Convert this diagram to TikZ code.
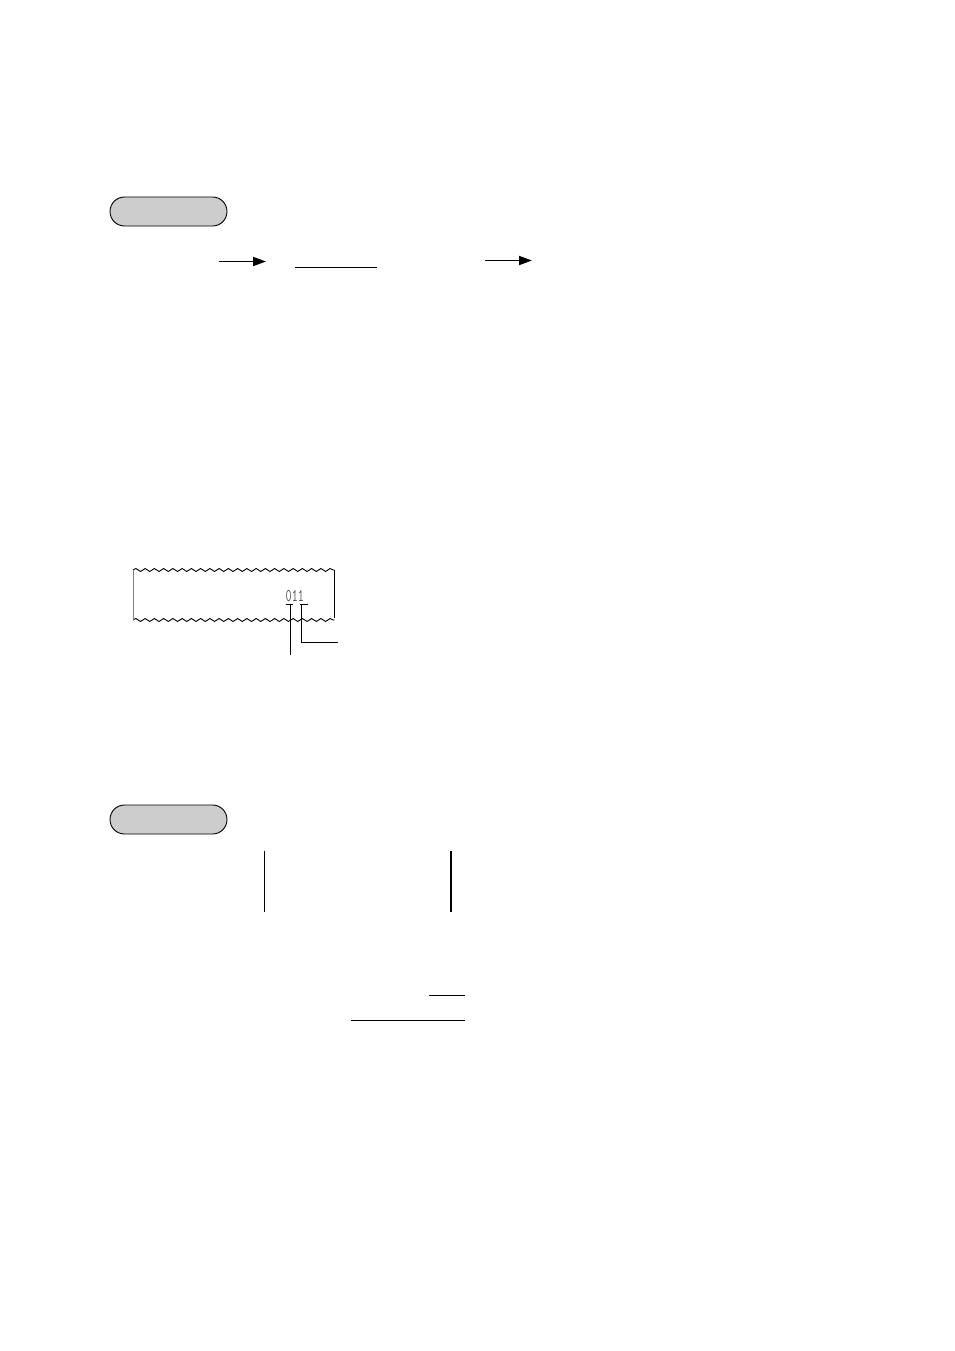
\documentclass[tikz,border=0pt]{standalone}
\usetikzlibrary{arrows.meta,decorations.pathmorphing}
\definecolor{grisboton}{RGB}{205,205,205}
\definecolor{gristexto}{RGB}{80,80,80}
\tikzset{
  boton/.style={draw, line width=0.9pt, fill=grisboton, rounded corners=14.5pt,
    minimum width=117pt, minimum height=29pt, inner sep=0pt},
  flecha/.style={line width=1.8pt, -{Triangle[length=13pt,width=9pt]}},
  ondas/.style={line width=0.9pt, decorate,
    decoration={snake, segment length=9.25pt, amplitude=1.5pt}}
}
\begin{document}
\begin{tikzpicture}[x=1pt,y=-1pt]
    \useasboundingbox (0,0) rectangle (954,1351);

    % Botones
    \node[boton] (boton1) at (168.5,211.5) {};
    \node[boton] (boton2) at (168.5,819.5) {};

    % Flechas
    \coordinate (f1a) at (219,261.5);
    \coordinate (f1b) at (266,261.5);
    \coordinate (f2a) at (485,260.5);
    \coordinate (f2b) at (532,260.5);
    \draw[flecha] (f1a) -- (f1b);
    \draw[flecha] (f2a) -- (f2b);

    % Linea de entrada
    \coordinate (l1a) at (295,267);
    \coordinate (l1b) at (377,267);
    \draw[line width=1pt] (l1a) -- (l1b);

    % Recibo
    \coordinate (rsi) at (133,570);
    \coordinate (rsd) at (334.5,570);
    \coordinate (rii) at (133,620);
    \coordinate (rid) at (334.5,620);
    \draw[ondas] (rsi) -- (rsd);
    \draw[ondas] (rii) -- (rid);
    \draw[line width=1pt, gray] (rsi) -- (rii);
    \draw[line width=1pt] (rsd) -- ([yshift=2pt]rid);
    \node[font=\ttfamily\fontsize{18}{18}\selectfont, text=gristexto,
      xscale=0.66, inner sep=0pt, anchor=south west] (codigo) at (285.5,601.5) {011};

    % Marcas del codigo
    \coordinate (m1a) at (285.7,604.3);
    \coordinate (m1b) at (293.3,604.3);
    \coordinate (m2a) at (300,604.3);
    \coordinate (m2b) at (308.3,604.3);
    \draw[line width=0.9pt] (m1a) -- (m1b);
    \draw[line width=0.9pt] (m2a) -- (m2b);
    \coordinate (v1a) at (290,604.3);
    \coordinate (v1b) at (290,655);
    \coordinate (v2a) at (301.7,604.3);
    \coordinate (v2b) at (301.7,642.3);
    \coordinate (v2c) at (337.5,642.3);
    \draw[line width=0.9pt] (v1a) -- (v1b);
    \draw[line width=0.9pt] (v2a) -- (v2b) -- (v2c);

    % Lineas verticales
    \coordinate (s1a) at (264.3,851);
    \coordinate (s1b) at (264.3,912);
    \coordinate (s2a) at (451,851);
    \coordinate (s2b) at (451,912);
    \draw[line width=1pt] (s1a) -- (s1b);
    \draw[line width=2pt] (s2a) -- (s2b);

    % Lineas de suma
    \coordinate (t1a) at (429,995.3);
    \coordinate (t1b) at (465,995.3);
    \coordinate (t2a) at (351,1020.3);
    \coordinate (t2b) at (465,1020.3);
    \draw[line width=1pt] (t1a) -- (t1b);
    \draw[line width=1pt] (t2a) -- (t2b);
\end{tikzpicture}
\end{document}
